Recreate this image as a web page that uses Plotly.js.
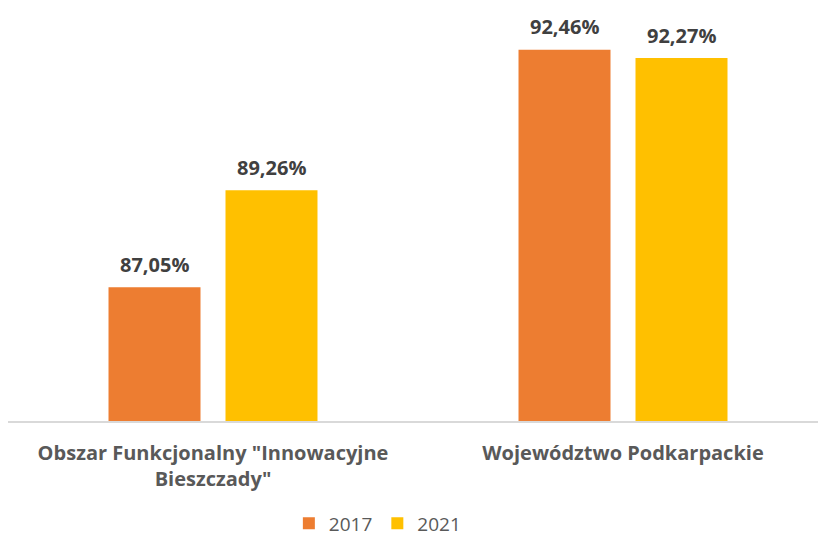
<!DOCTYPE html>
<html>
<head>
<meta charset="utf-8">
<script src="https://cdn.plot.ly/plotly-3.0.1.min.js"></script>
<style>html,body{margin:0;padding:0;background:#fff;}#chart{width:818px;height:536px;}</style>
</head>
<body>
<div id="chart"></div>
<script>
const categories = ['Obszar Funkcjonalny "Innowacyjne<br>Bieszczady"', 'Województwo Podkarpackie'];
const series2017 = [87.05, 92.46];
const series2021 = [89.26, 92.27];
const seriesNames = ['2017', '2021'];
const seriesColors = ['#ED7D31', '#FFC000'];
const fmt = v => v.toFixed(2).replace('.', ',') + '%';

const labelFont = {family: 'Open Sans, sans-serif', size: 20, color: '#404040', weight: 700};

const allSeries = [series2017, series2021];
const traces = allSeries.map((s, i) => ({
  type: 'bar', name: seriesNames[i], x: categories, y: s, marker: {color: seriesColors[i]},
  hoverinfo: 'none'
}));

// data labels as annotations, offset to each bar of the group
const annotations = [];
allSeries.forEach((s, i) => {
  s.forEach((v, j) => {
    annotations.push({
      x: categories[j], y: v, xref: 'x', yref: 'y', text: fmt(v), showarrow: false,
      xshift: (i === 0 ? -58.5 : 58.5), yanchor: 'middle', yshift: 23, font: labelFont
    });
  });
});

const layout = {
  width: 818, height: 536,
  margin: {l: 8, r: 0, t: 26, b: 115, autoexpand: false},
  paper_bgcolor: '#fff', plot_bgcolor: '#fff',
  barmode: 'group', bargap: 0.4293, bargroupgap: 0.2137,
  xaxis: {type: 'category', range: [-0.5, 1.4756], showline: true, linecolor: '#D9D9D9', linewidth: 2,
          ticks: '', showgrid: false, zeroline: false, ticklabelstandoff: 13,
          tickfont: {family: 'Open Sans, sans-serif', size: 20, color: '#595959', weight: 700}},
  yaxis: {range: [84, 93], visible: false, showgrid: false, zeroline: false},
  showlegend: true,
  legend: {orientation: 'h', x: 0.456, xanchor: 'center', y: -0.259, yanchor: 'middle',
           itemwidth: 30, tracegroupgap: 0, bgcolor: 'rgba(0,0,0,0)',
           font: {family: 'Open Sans, sans-serif', size: 19, color: '#595959'}},
  annotations: annotations,
  font: {family: 'Open Sans, sans-serif'}
};

Plotly.newPlot('chart', traces, layout, {staticPlot: true, displayModeBar: false});
</script>
</body>
</html>
